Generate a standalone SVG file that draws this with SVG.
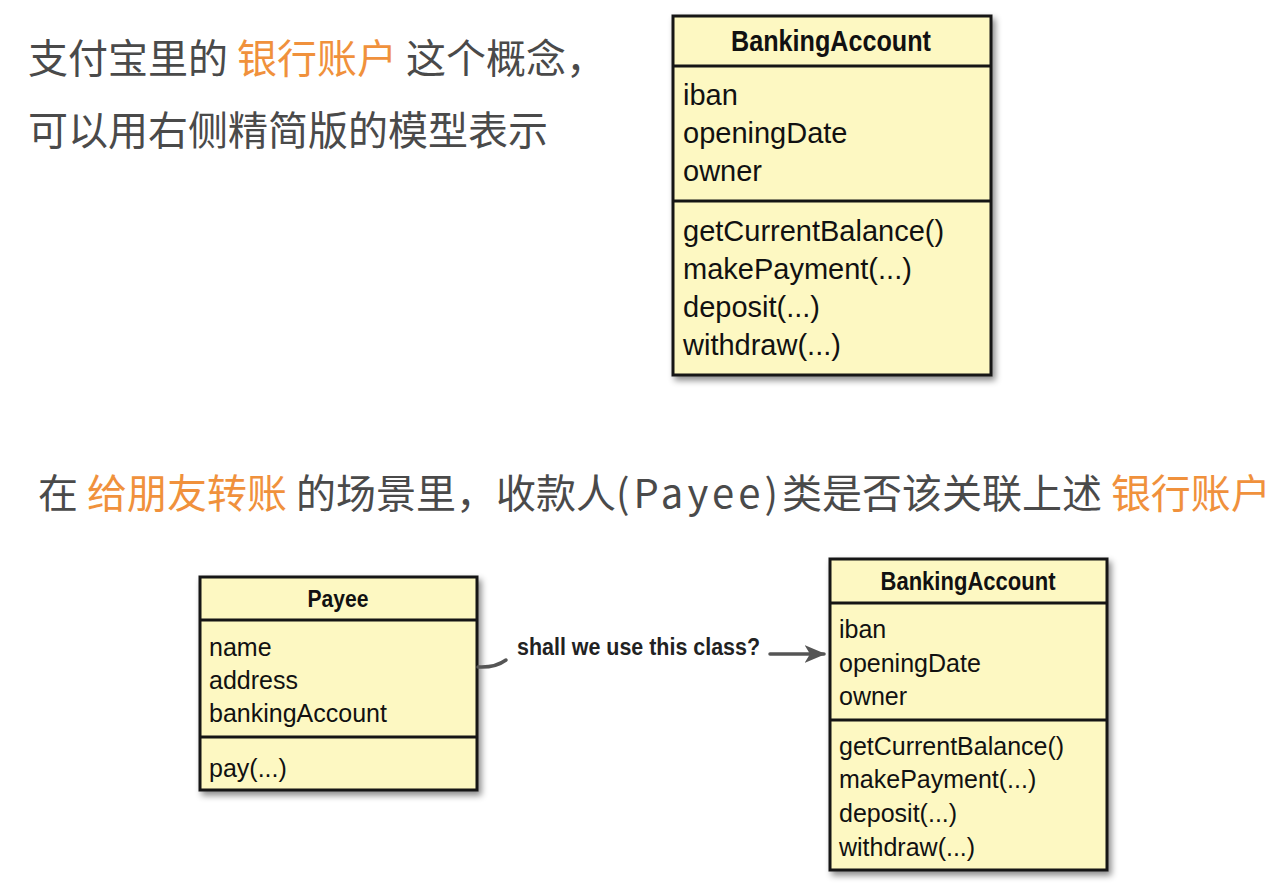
<svg xmlns="http://www.w3.org/2000/svg" width="1283" height="887" viewBox="0 0 1283 887">
  <style>
    .cn { font-family: "Noto Sans CJK SC", "Noto Sans", sans-serif; font-size: 40px; fill: #4a4a4a; }
    .hl { fill: #f0913c; }
    .box { fill: #fdf8c2; stroke: #151515; stroke-width: 3; }
    .sep { stroke: #151515; stroke-width: 3; }
    .title { font-family: "Liberation Sans", Arial, sans-serif; font-weight: bold; fill: #111; }
    .mbig { font-family: "Liberation Sans", Arial, sans-serif; font-size: 29px; fill: #111; }
    .msm { font-family: "Liberation Sans", Arial, sans-serif; font-size: 25px; fill: #111; }
    .conn { fill: none; stroke: #555; stroke-width: 3.5; stroke-linecap: round; }
    .lbl { font-family: "Liberation Sans", Arial, sans-serif; font-weight: bold; font-size: 23px; fill: #222; }
  </style>
  <defs>
    <filter id="shadow" x="-10%" y="-10%" width="125%" height="125%">
      <feDropShadow dx="3" dy="4" stdDeviation="3" flood-color="#000" flood-opacity="0.45"/>
    </filter>
    <marker id="arrow" viewBox="0 0 12 10" refX="11" refY="5" markerWidth="6" markerHeight="5" orient="auto" markerUnits="strokeWidth">
      <path d="M0,0 L12,5 L0,10 L3,5 Z" fill="#555"/>
    </marker>
  </defs>
  <rect width="1283" height="887" fill="#ffffff"/>

  <g id="text-top">
    <text class="cn" x="28" y="73">支付宝里的 <tspan class="hl">银行账户</tspan> 这个概念，</text>
    <text class="cn" x="28" y="145">可以用右侧精简版的模型表示</text>
  </g>

  <g id="text-middle">
    <text class="cn" x="38" y="508">在 <tspan class="hl">给朋友转账</tspan> 的场景里，收款人<tspan letter-spacing="4">(Payee)</tspan>类是否该关联上述 <tspan class="hl">银行账户</tspan></text>
  </g>

  <g id="banking-account-top">
    <rect class="box" x="673" y="16" width="318" height="359" filter="url(#shadow)"/>
    <line class="sep" x1="673" y1="66" x2="991" y2="66"/>
    <line class="sep" x1="673" y1="201" x2="991" y2="201"/>
    <text class="title" x="831" y="51" font-size="30" text-anchor="middle" textLength="200" lengthAdjust="spacingAndGlyphs">BankingAccount</text>
    <text class="mbig" x="683" y="105">iban</text>
    <text class="mbig" x="683" y="143">openingDate</text>
    <text class="mbig" x="683" y="181">owner</text>
    <text class="mbig" x="683" y="241">getCurrentBalance()</text>
    <text class="mbig" x="683" y="279">makePayment(...)</text>
    <text class="mbig" x="683" y="317">deposit(...)</text>
    <text class="mbig" x="683" y="355">withdraw(...)</text>
  </g>

  <g id="payee">
    <rect class="box" x="200" y="577" width="277" height="213" filter="url(#shadow)"/>
    <line class="sep" x1="200" y1="620" x2="477" y2="620"/>
    <line class="sep" x1="200" y1="737" x2="477" y2="737"/>
    <text class="title" x="338" y="607" font-size="23" text-anchor="middle" textLength="61" lengthAdjust="spacingAndGlyphs">Payee</text>
    <text class="msm" x="209" y="656">name</text>
    <text class="msm" x="209" y="689">address</text>
    <text class="msm" x="209" y="722">bankingAccount</text>
    <text class="msm" x="209" y="777">pay(...)</text>
  </g>

  <g id="banking-account-bottom">
    <rect class="box" x="830" y="559" width="277" height="311" filter="url(#shadow)"/>
    <line class="sep" x1="830" y1="603" x2="1107" y2="603"/>
    <line class="sep" x1="830" y1="720" x2="1107" y2="720"/>
    <text class="title" x="968" y="590" font-size="26" text-anchor="middle" textLength="175" lengthAdjust="spacingAndGlyphs">BankingAccount</text>
    <text class="msm" x="839" y="638">iban</text>
    <text class="msm" x="839" y="672">openingDate</text>
    <text class="msm" x="839" y="705">owner</text>
    <text class="msm" x="839" y="755">getCurrentBalance()</text>
    <text class="msm" x="839" y="788">makePayment(...)</text>
    <text class="msm" x="839" y="822">deposit(...)</text>
    <text class="msm" x="839" y="856">withdraw(...)</text>
  </g>

  <g id="connectors">
    <path class="conn" d="M478,667 Q495,668 506,660"/>
    <text class="lbl" x="517" y="655" textLength="243" lengthAdjust="spacingAndGlyphs">shall we use this class?</text>
    <line class="conn" x1="770" y1="654" x2="824" y2="654" marker-end="url(#arrow)"/>
  </g>
</svg>
